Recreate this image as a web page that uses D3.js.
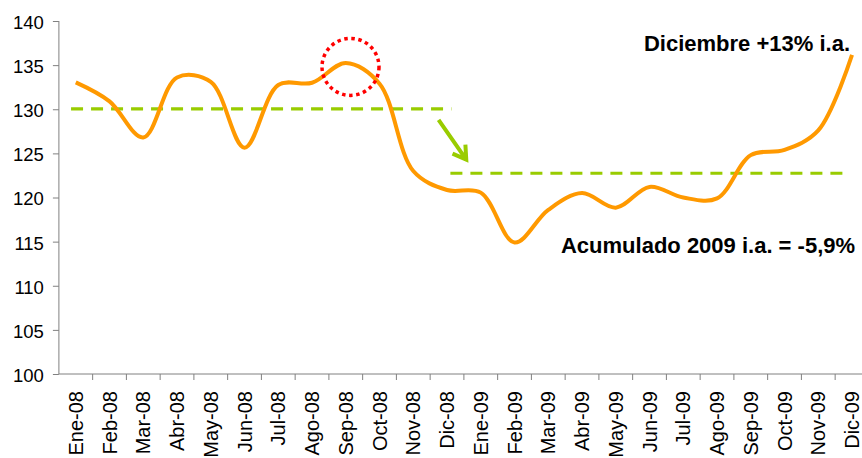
<!DOCTYPE html>
<html>
<head>
<meta charset="utf-8">
<script src="https://cdn.jsdelivr.net/npm/d3@7"></script>
<style>
html,body{margin:0;padding:0;background:#fff;overflow:hidden;}
svg{display:block;font-family:"Liberation Sans",Arial,sans-serif;}
</style>
</head>
<body>
<svg id="chart" width="862" height="458"></svg>
<script>
// ---- data ----
const months = ["Ene-08","Feb-08","Mar-08","Abr-08","May-08","Jun-08","Jul-08","Ago-08","Sep-08","Oct-08","Nov-08","Dic-08",
                "Ene-09","Feb-09","Mar-09","Abr-09","May-09","Jun-09","Jul-09","Ago-09","Sep-09","Oct-09","Nov-09","Dic-09"];
const values = [133.05,130.9,126.8,133.6,133.1,125.65,132.75,133.0,135.25,132.9,123.0,120.85,
                120.55,114.9,118.6,120.5,118.85,121.2,120.0,119.9,124.8,125.4,127.6,136.15];
const yTicks = [100,105,110,115,120,125,130,135,140];
// averages (dashed lines): [index, value]
const avg2008 = [[-0.14,130.05],[11.13,130.05]];
const avg2009 = [[11.1,122.75],[22.76,122.75]];
// annotation anchors in data units
const arrowFrom = [10.75,128.8], arrowTo = [11.57,124.3];
const circleCenter = [8.14,134.8];
const noteDic = {i:22.94, v:136.65, text:"Diciembre +13% i.a."};
const noteAcum = {i:23.09, v:113.75, text:"Acumulado 2009 i.a. = -5,9%"};

(function(){
// ---- layout ----
const svg = d3.select("#chart");
const mLeft = 58.9, mRight = 868.9, mTop = 21, mBottom = 374;
const x = d3.scaleBand().domain(months).range([mLeft,mRight]);
const y = d3.scaleLinear().domain([100,140]).range([mBottom,mTop]);
const bw = x.bandwidth();
const xi = i => mLeft + bw*(i+0.5);

// y axis
const yAxis = svg.append("g").attr("transform",`translate(${mLeft},0)`)
  .call(d3.axisLeft(y).tickValues(yTicks).tickSize(6).tickPadding(9).tickFormat(d3.format("d")));
yAxis.select(".domain").attr("stroke","#808080").attr("d",`M0,${mTop}V${mBottom}`);
yAxis.selectAll(".tick line").attr("stroke","#808080");
yAxis.selectAll(".tick text").attr("fill","#000").style("font-size","18.5px").attr("dy","0.4em");

// x axis
const xAxis = svg.append("g").attr("transform",`translate(0,${mBottom})`)
  .call(d3.axisBottom(x).tickSize(0).tickFormat(""));
xAxis.select(".domain").attr("stroke","#808080").attr("d",`M${mLeft},0H${mRight}`);
xAxis.selectAll(".tick").remove();
xAxis.selectAll("line.bt").data(months.slice(1)).enter().append("line")
  .attr("class","bt")
  .attr("x1",d=>x(d)).attr("x2",d=>x(d)).attr("y1",0).attr("y2",6)
  .attr("stroke","#808080");
xAxis.selectAll("text.lbl").data(months).enter().append("text")
  .attr("class","lbl")
  .attr("transform",d=>`translate(${x(d)+bw/2},17) rotate(-90)`)
  .attr("text-anchor","end").attr("dy","0.36em")
  .style("font-size","20px").attr("fill","#000")
  .text(d=>d);

// dashed average lines
const lineAvg = d3.line().x(d=>xi(d[0])).y(d=>y(d[1]));
[avg2008,avg2009].forEach(a=>{
  svg.append("path").attr("d",lineAvg(a)).attr("fill","none")
    .attr("stroke","#99CC00").attr("stroke-width",3.2).attr("stroke-dasharray","12,8");
});

// main line
const line = d3.line().x((d,i)=>xi(i)).y(d=>y(d)).curve(d3.curveCatmullRom.alpha(0.5));
svg.append("path").datum(values).attr("d",line).attr("fill","none")
  .attr("stroke","#FF9900").attr("stroke-width",4).attr("stroke-linejoin","round");

// red dotted circle
svg.append("circle").attr("cx",xi(circleCenter[0])).attr("cy",y(circleCenter[1])).attr("r",28.5)
  .attr("fill","none").attr("stroke","#FF0000").attr("stroke-width",3.5).attr("stroke-dasharray","3.5,3.6");

// green arrow
const ax1 = xi(arrowFrom[0]), ay1 = y(arrowFrom[1]), ax2 = xi(arrowTo[0]), ay2 = y(arrowTo[1]);
const ang = Math.atan2(ay2-ay1, ax2-ax1), hl = 15, ha = 0.55;
svg.append("path")
  .attr("d",`M${ax1},${ay1}L${ax2},${ay2}M${ax2-hl*Math.cos(ang-ha)},${ay2-hl*Math.sin(ang-ha)}L${ax2},${ay2}L${ax2-hl*Math.cos(ang+ha)},${ay2-hl*Math.sin(ang+ha)}`)
  .attr("fill","none").attr("stroke","#99CC00").attr("stroke-width",4).attr("stroke-linecap","butt").attr("stroke-linejoin","miter");

// annotations
[noteDic,noteAcum].forEach(n=>{
  svg.append("text").attr("x",xi(n.i)).attr("y",y(n.v)).attr("text-anchor","end")
    .style("font-size","22px").style("font-weight","bold").attr("fill","#000").text(n.text);
});
})();
</script>
</body>
</html>
